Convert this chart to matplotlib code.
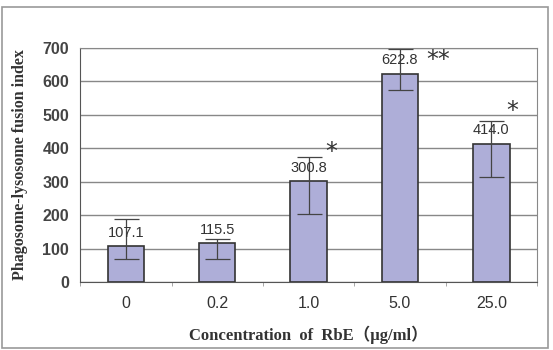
import matplotlib.pyplot as plt
import numpy as np
from matplotlib.patches import Rectangle

conc = ["0", "0.2", "1.0", "5.0", "25.0"]
values = [107.1, 115.5, 300.8, 622.8, 414.0]
err_low = [68, 68, 205, 575, 314]
err_high = [190, 130, 375, 697, 482]
stars = ["", "", "*", "**", "*"]
star_y = [0, 0, 388, 665, 512]
star_dx = [0, 0, 0.25, 0.42, 0.23]

x = np.arange(len(conc))
lo = np.array(values) - np.array(err_low)
hi = np.array(err_high) - np.array(values)

fig = plt.figure(figsize=(5.53, 3.5), dpi=100)
fig.patches.append(Rectangle((0.004, 0.006), 0.987, 0.974, transform=fig.transFigure,
                             fill=False, edgecolor="#999999", linewidth=1.2))
ax = fig.add_axes([0.145, 0.194, 0.826, 0.669])

ax.bar(x, values, width=0.4, color="#aeaed8", edgecolor="#333333", linewidth=1.2, zorder=2)
ax.errorbar(x, values, yerr=[lo, hi], fmt="none", ecolor="#444444", elinewidth=0.9,
            capsize=9, capthick=0.9, zorder=3)

for i, v in enumerate(values):
    ax.text(x[i], v + 40, f"{v:.1f}", ha="center", va="center", fontsize=10.5,
            family="Liberation Sans", color="#333333", zorder=4)
    if stars[i]:
        ax.text(x[i] + star_dx[i], star_y[i], stars[i], ha="center", va="center",
                fontsize=17, color="#333333", zorder=4)

ax.set_xlim(-0.5, len(conc) - 0.5)
ax.set_ylim(0, 700)
ax.set_yticks(range(0, 701, 100))
ax.yaxis.grid(True, color="#888888", linewidth=1)
ax.set_axisbelow(True)
ax.set_xticks(x)
ax.set_xticklabels(conc, family="Liberation Sans", fontsize=11.5, color="#333333")
ax.set_xticks(np.arange(-0.5, len(conc), 1), minor=True)
ax.tick_params(axis="x", which="major", length=0, pad=10)
ax.tick_params(axis="x", which="minor", length=3, color="#999999")
ax.tick_params(axis="y", length=0, pad=8)
for lab in ax.get_yticklabels():
    lab.set_family("Liberation Sans")
    lab.set_fontweight("bold")
    lab.set_color("#444444")
    lab.set_fontsize(11.5)
for s in ax.spines.values():
    s.set_color("#888888")
ax.spines["bottom"].set_color("#555555")
ax.spines["left"].set_color("#555555")

ax.set_ylabel("Phagosome-lysosome fusion index", family="Liberation Serif",
              fontweight="bold", fontsize=11.5, color="#333333")
ax.yaxis.set_label_coords(-0.115, 0.5)
ax.set_xlabel("Concentration  of  RbE（μg/ml）", family=["Liberation Serif", "Noto Sans CJK JP"],
              fontweight="bold", fontsize=12, color="#333333")
ax.xaxis.set_label_coords(0.5, -0.185)

fig.savefig("out.png", dpi=100)
